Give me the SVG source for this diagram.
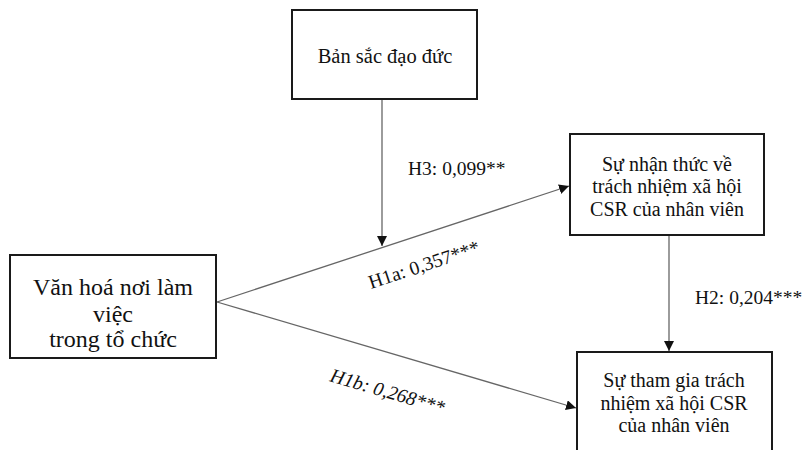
<svg xmlns="http://www.w3.org/2000/svg" width="806" height="450" viewBox="0 0 806 450">
<defs>
<style>
.box{fill:#fff;stroke:#1a1a1a;stroke-width:2}
.t{font-family:"Liberation Serif","Times New Roman",serif;fill:#111;text-anchor:middle}
.lbl{font-family:"Liberation Serif","Times New Roman",serif;fill:#111;font-size:19.5px}
.con{stroke:#666;stroke-width:1.3;fill:none;marker-end:url(#ah)}
</style>
<marker id="ah" viewBox="0 0 10 10" refX="10" refY="5" markerWidth="10" markerHeight="10" markerUnits="userSpaceOnUse" orient="auto">
<path d="M0,0 L10,5 L0,10 z" fill="#111"/>
</marker>
</defs>
<rect width="806" height="450" fill="#fff"/>
<g id="connectors">
<line class="con" x1="382" y1="100" x2="382" y2="246"/>
<line class="con" x1="217" y1="302" x2="569" y2="186"/>
<line class="con" x1="217" y1="302" x2="576" y2="408"/>
<line class="con" x1="669" y1="236" x2="669" y2="351"/>
</g>
<g id="node-ban-sac">
<rect class="box" x="292" y="10" width="185" height="89"/>
<text class="t" x="385" y="63" font-size="20.5">Bản sắc đạo đức</text>
</g>
<g id="node-nhan-thuc">
<rect class="box" x="570" y="134" width="194" height="101"/>
<text class="t" x="667" y="171" font-size="20">Sự nhận thức về</text>
<text class="t" x="667" y="193" font-size="20">trách nhiệm xã hội</text>
<text class="t" x="667" y="216" font-size="20">CSR của nhân viên</text>
</g>
<g id="node-van-hoa">
<rect class="box" x="10" y="255" width="206" height="103"/>
<text class="t" x="113" y="295" font-size="24">Văn hoá nơi làm</text>
<text class="t" x="113" y="322" font-size="24">việc</text>
<text class="t" x="113" y="347" font-size="24">trong tổ chức</text>
</g>
<g id="node-tham-gia">
<rect class="box" x="577" y="352" width="195" height="104"/>
<text class="t" x="674" y="387" font-size="20">Sự tham gia trách</text>
<text class="t" x="674" y="410" font-size="20">nhiệm xã hội CSR</text>
<text class="t" x="674" y="432" font-size="20">của nhân viên</text>
</g>
<g id="labels">
<text class="lbl" x="408" y="175">H3: 0,099**</text>
<text class="lbl" x="695" y="304">H2: 0,204***</text>
<text class="lbl" transform="translate(371,289) rotate(-18.2)">H1a: 0,357***</text>
<text class="lbl" font-style="italic" transform="translate(329,381) rotate(16.4)">H1b: 0,268***</text>
</g>
</svg>
